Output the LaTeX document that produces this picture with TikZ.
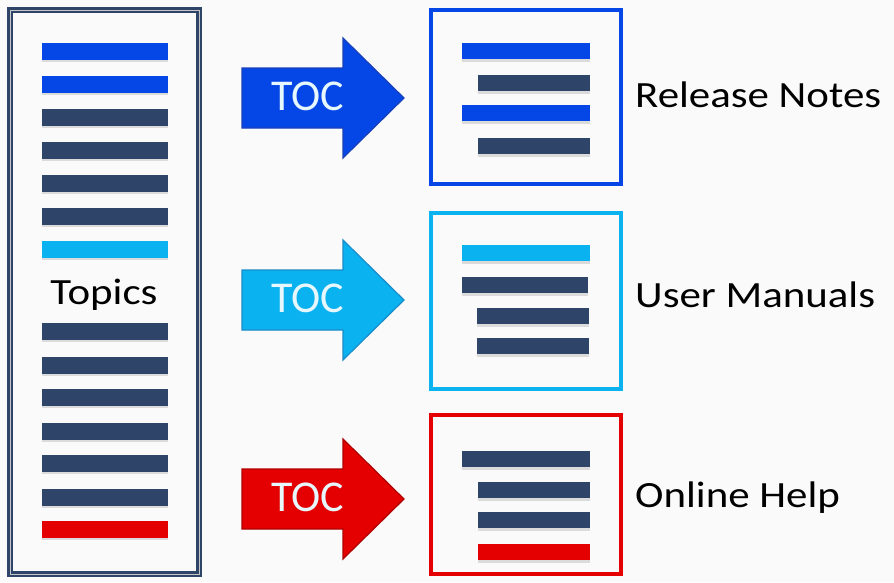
\documentclass[tikz,border=0pt]{standalone}
\usepackage{fontspec}
\setmainfont{Carlito}
\newfontfamily\labelfont{Carlito}[FakeStretch=1.16]
\usetikzlibrary{positioning,shadows}
\definecolor{navybar}{RGB}{47,68,105}
\definecolor{tocblue}{RGB}{5,70,230}
\definecolor{tocblueline}{RGB}{25,65,185}
\definecolor{toccyan}{RGB}{10,178,240}
\definecolor{toccyanline}{RGB}{25,140,200}
\definecolor{tocred}{RGB}{228,0,0}
\definecolor{tocredline}{RGB}{175,0,0}
\definecolor{bgwhite}{RGB}{250,250,250}

\begin{document}
\begin{tikzpicture}[x=1pt,y=-1pt,
      bar/.style={minimum width=126pt,minimum height=17pt,inner sep=0pt,fill=navybar,
                  drop shadow={opacity=0.25,fill=gray,shadow xshift=0pt,shadow yshift=-2.5pt}},
      longbar/.style={bar,minimum width=128pt,minimum height=16pt},
      shortbar/.style={bar,minimum width=112pt,minimum height=16pt},
      doc/.style={line width=3.5pt,minimum width=190pt,inner sep=0pt,fill=bgwhite},
      lbl/.style={font=\labelfont\fontsize{37}{40}\selectfont,anchor=base west,inner sep=0pt},
      toc/.style={font=\fontsize{44}{46}\selectfont,text=white!90!cyan,
                  anchor=base west,inner sep=0pt}]
  \fill[bgwhite] (0,0) rectangle (894,582);
  \useasboundingbox (0,0) rectangle (894,582);

  % topics column
  \node[draw=navybar,double=gray!45,double distance=1pt,line width=2.2pt,
        minimum width=189pt,minimum height=564pt,inner sep=0pt] (topicbox) at (104.5,292) {};
  \foreach \y/\c [count=\i] in {51/tocblue,84/tocblue,117/navybar,150/navybar,
      183/navybar,216/navybar,249/toccyan,331/navybar,365/navybar,397/navybar,
      431/navybar,463/navybar,497/navybar,529/tocred}
    \node[bar,fill=\c] (t\i) at (105,\y) {};
  \node[font=\labelfont\fontsize{37}{40}\selectfont,anchor=base,inner sep=0pt] (topics) at (104,304) {Topics};

  % arrows
  \foreach \y/\c/\l/\n in {98/tocblue/tocblueline/tocA,300/toccyan/toccyanline/tocB,
      499/tocred/tocredline/tocC}{
    \draw[fill=\c,draw=\l,line width=1.2pt,line join=miter]
      (242,\y-30) -- (343,\y-30) -- (343,\y-60) -- (404,\y) -- (343,\y+60)
      -- (343,\y+30) -- (242,\y+30) -- cycle;
    \node[toc] (\n) at (271,\y+12) {TOC};
  }

  % release notes
  \node[doc,draw=tocblue,minimum height=174pt] (relbox) at (526,97) {};
  \node[longbar,fill=tocblue] (r1) at (526,51) {};
  \node[shortbar] (r2) at (534,83) {};
  \node[longbar,fill=tocblue] (r3) at (526,113) {};
  \node[shortbar] (r4) at (534,146) {};
  \node[lbl] (relnotes) at (635,107) {Release Notes};

  % user manuals
  \node[doc,draw=toccyan,minimum height=176pt] (manbox) at (526,301) {};
  \node[longbar,fill=toccyan] (m1) at (526,253) {};
  \node[longbar,minimum width=126pt] (m2) at (525,285) {};
  \node[shortbar] (m3) at (533,316) {};
  \node[shortbar] (m4) at (533,346) {};
  \node[lbl] (manuals) at (635,307) {User Manuals};

  % online help
  \node[doc,draw=tocred,minimum height=159pt] (helpbox) at (526,494.5) {};
  \node[longbar] (h1) at (526,459) {};
  \node[shortbar] (h2) at (534,490) {};
  \node[shortbar] (h3) at (534,520) {};
  \node[shortbar,fill=tocred] (h4) at (534,552) {};
  \node[lbl] (help) at (635,507) {Online Help};
\end{tikzpicture}
\end{document}
